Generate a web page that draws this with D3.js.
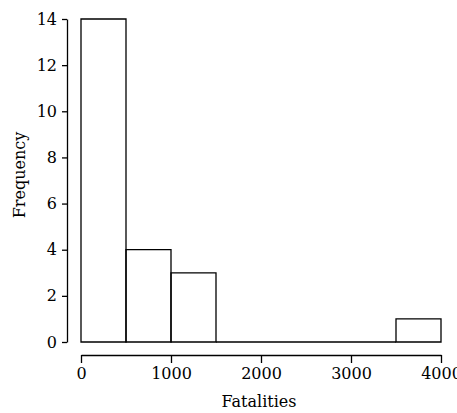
<!DOCTYPE html>
<html>
<head>
<meta charset="utf-8">
<script src="https://cdn.jsdelivr.net/npm/d3@7"></script>
<style>
  body { margin: 0; background: #fff; }
  text { font-family: "DejaVu Serif", serif; fill: #000; }
</style>
</head>
<body>
<script>
// Histogram bins (Fatalities) and their counts
const binStarts = [0, 500, 1000, 1500, 2000, 2500, 3000, 3500];
const binWidth = 500;
const counts = [14, 4, 3, 0, 0, 0, 0, 1];
const xTicks = [0, 1000, 2000, 3000, 4000];
const yTicks = [0, 2, 4, 6, 8, 10, 12, 14];

const w = 457, h = 413;
const svg = d3.select("body").append("svg")
  .attr("width", w)
  .attr("height", h);

const x = d3.scaleLinear().domain([0, 4000]).range([81, 441]);
const y = d3.scaleLinear().domain([0, 14]).range([342, 19]);

// bars drawn as closed paths so empty bins still show on the baseline
svg.selectAll("path.bar")
  .data(binStarts.map((s, i) => ({ s, c: counts[i] })))
  .enter()
  .append("path")
  .attr("class", "bar")
  .attr("d", d => {
    const x0 = x(d.s), x1 = x(d.s + binWidth), y0 = y(0), y1 = y(d.c);
    return `M${x0},${y0}V${y1}H${x1}V${y0}Z`;
  })
  .attr("fill", "none")
  .attr("stroke", "#000")
  .attr("stroke-width", 1.3);

// axes
const xAxis = svg.append("g")
  .attr("transform", "translate(0,355)")
  .call(d3.axisBottom(x).tickValues(xTicks).tickFormat(d3.format("d"))
    .tickSize(8).tickPadding(5).tickSizeOuter(0));

const yAxis = svg.append("g")
  .attr("transform", "translate(67,0)")
  .call(d3.axisLeft(y).tickValues(yTicks).tickSize(5).tickPadding(5).tickSizeOuter(0));

[xAxis, yAxis].forEach(g => {
  g.select(".domain").attr("stroke", "#000").attr("stroke-width", 1.3);
  g.selectAll(".tick line").attr("stroke", "#000").attr("stroke-width", 1.3);
  g.selectAll(".tick text")
    .style("font-family", "'DejaVu Serif', serif")
    .style("font-size", "16px")
    .attr("fill", "#000");
});

// axis titles
svg.append("text")
  .attr("x", 259)
  .attr("y", 407)
  .attr("text-anchor", "middle")
  .style("font-size", "16px")
  .text("Fatalities");

svg.append("text")
  .attr("transform", "rotate(-90)")
  .attr("x", -175)
  .attr("y", 25)
  .attr("text-anchor", "middle")
  .style("font-size", "16px")
  .text("Frequency");
</script>
</body>
</html>
